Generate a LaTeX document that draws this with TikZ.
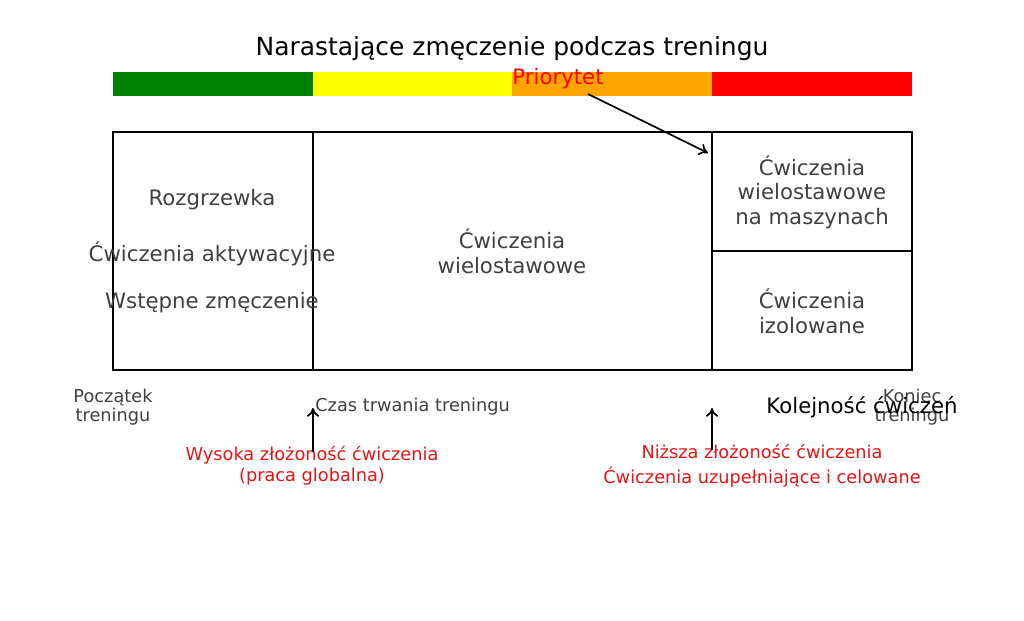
\documentclass[tikz,border=0pt]{standalone}
\usepackage{fontspec}
\setmainfont{DejaVu Sans}
\usetikzlibrary{arrows.meta}
\definecolor{barGreen}{RGB}{0,128,0}
\definecolor{barYellow}{RGB}{255,255,0}
\definecolor{barOrange}{RGB}{255,165,0}
\definecolor{barRed}{RGB}{255,0,0}
\definecolor{textgray}{RGB}{64,64,64}
\definecolor{notered}{RGB}{230,20,20}
\tikzstyle{frame}=[draw,line width=0.9pt]
\tikzstyle{arrow} = [draw,line width=0.95pt,-{To[length=5pt,width=7pt]}]
\tikzstyle{boxtext}=[text=textgray,font=\fontsize{12.1}{14}\selectfont,align=center,inner sep=0pt]
\tikzstyle{endtext}=[text=textgray,font=\fontsize{10.1}{10.8}\selectfont,align=center,inner sep=0pt]
\tikzstyle{note}=[text=notered,font=\fontsize{10.1}{12}\selectfont,align=center,inner sep=0pt]

\begin{document}
\begin{tikzpicture}[x=0.02cm,y=-0.02cm]
    \useasboundingbox (0,0) rectangle (1024,621);

    \node[font=\fontsize{14.2}{16}\selectfont,inner sep=0pt] (title) at (512,49) {Narastające zmęczenie podczas treningu};

    % fatigue bar
    \foreach \x/\col in {113/barGreen,313/barYellow,512/barOrange,712/barRed}
        \fill[\col] (\x,72) rectangle ++(200,24);

    \node[text=barRed,font=\fontsize{12.1}{14}\selectfont,inner sep=0pt] (prio) at (558,79) {Priorytet};

    % training blocks
    \draw[frame] (113,132) rectangle (912,370);
    \draw[frame] (313,132) -- (313,370);
    \draw[frame] (712,132) -- (712,370);
    \draw[frame] (712,251) -- (912,251);

    \foreach \pos/\name/\txt in {{(212,200)/warmup/Rozgrzewka},{(212,254)/activation/Ćwiczenia aktywacyjne},{(212,303)/prefatigue/Wstępne zmęczenie}}
        \node[boxtext] (\name) at \pos {\txt};

    \node[boxtext] (compound) at (512,251) {Ćwiczenia\\wielostawowe};
    \node[boxtext] (machines) at (812,192) {Ćwiczenia\\wielostawowe\\na maszynach};
    \node[boxtext] (isolation) at (812,311) {Ćwiczenia\\izolowane};

    % time axis labels
    \node[endtext] (start) at (113,407) {Początek\\treningu};
    \node[endtext,anchor=west] (duration) at (315,407) {Czas trwania treningu};
    \node[endtext] (end) at (912,407) {Koniec\\treningu};
    \node[font=\fontsize{12.1}{14}\selectfont,inner sep=0pt] (order) at (862,407) {Kolejność ćwiczeń};

    \node[note] (high) at (312,466) {Wysoka złożoność ćwiczenia\\(praca globalna)};
    \node[note] (low) at (762,466) {Niższa złożoność ćwiczenia\\[2pt]Ćwiczenia uzupełniające i celowane};

    % arrows
    \coordinate (prioTail) at (588,94);
    \coordinate (prioHead) at (708,153);
    \coordinate (highTail) at (313,452);
    \coordinate (highHead) at (313,408);
    \coordinate (lowTail) at (712,450);
    \coordinate (lowHead) at (712,408);
    \foreach \source/ \dest in {prioTail/prioHead,highTail/highHead,lowTail/lowHead}
        \path[arrow] (\source) -- (\dest);

\end{tikzpicture}
\end{document}
